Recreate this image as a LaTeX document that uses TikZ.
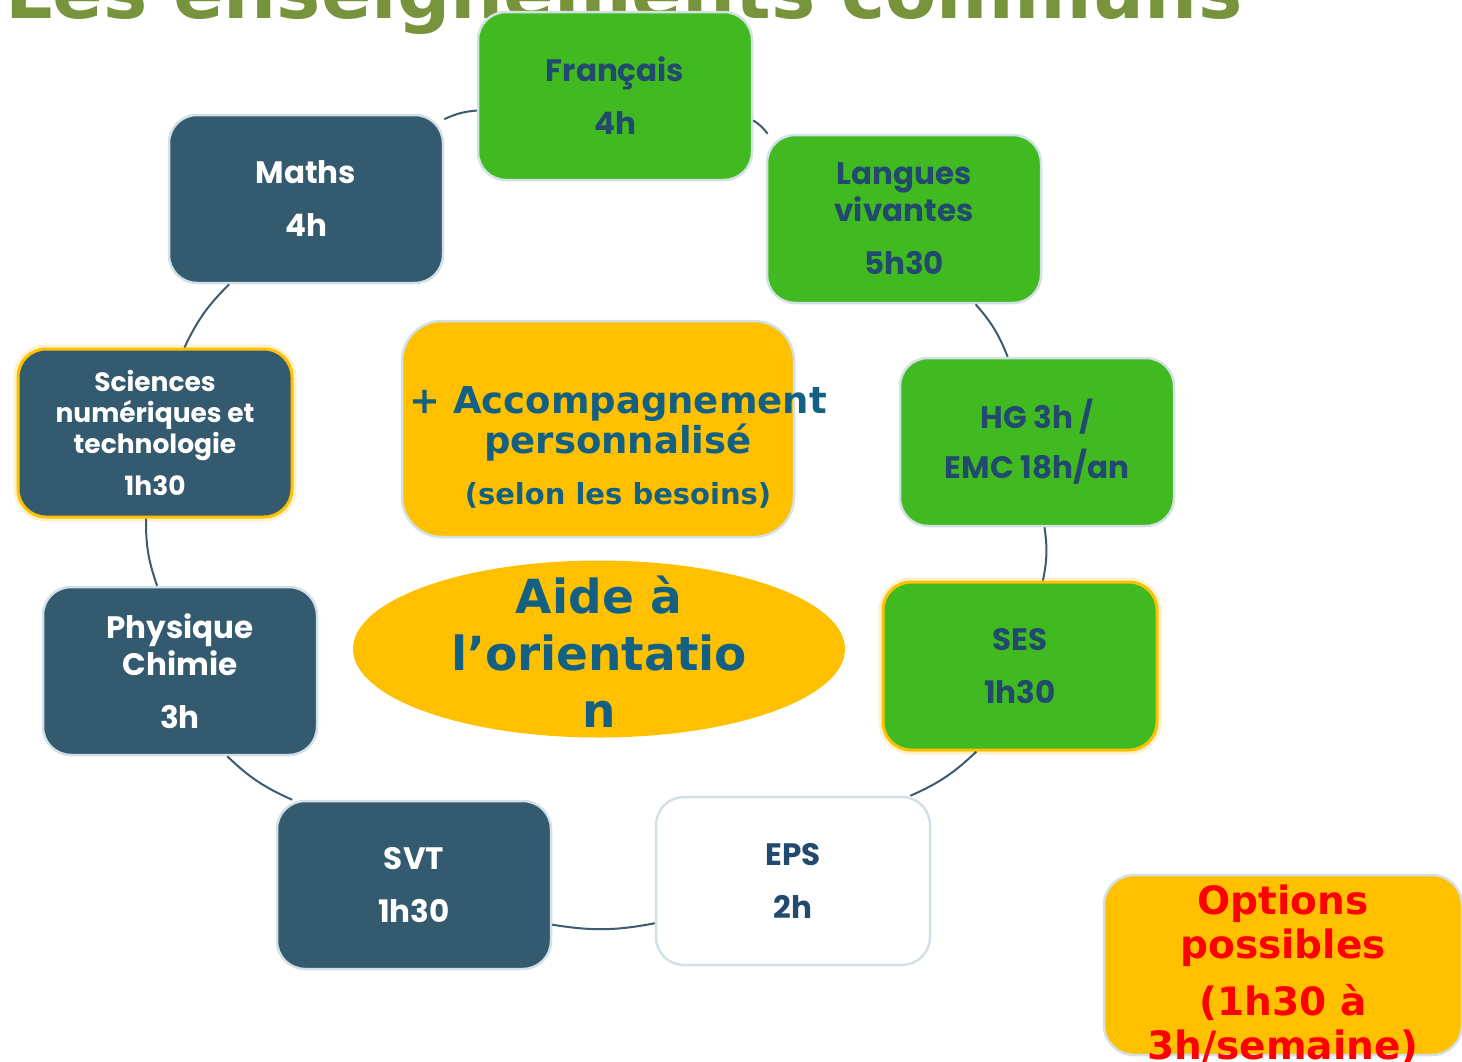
\documentclass[tikz,border=0pt]{standalone}
\usepackage{fontspec}
\setmainfont{DejaVu Sans}
\newfontfamily\boxfont{Poppins}
\usetikzlibrary{
  positioning,
  shapes.geometric
}
\definecolor{vert}{HTML}{40BA20}
\definecolor{ardoise}{HTML}{335A6E}
\definecolor{jaune}{HTML}{FFC000}
\definecolor{bleutexte}{HTML}{22496E}
\definecolor{bleucentre}{HTML}{136082}
\definecolor{bord}{HTML}{D3E0E6}
\definecolor{trait}{HTML}{3E5B6E}
\definecolor{titre}{HTML}{77933C}
\tikzset{
  matiere/.style={draw=bord, line width=2.5pt, rounded corners=28pt,
    minimum width=274pt, minimum height=168pt, align=center,
    font=\boxfont\bfseries\fontsize{31}{37}\selectfont},
  vertbox/.style={matiere, fill=vert, text=bleutexte},
  sombrebox/.style={matiere, fill=ardoise, text=white},
  blancbox/.style={matiere, fill=white, text=bleutexte},
  surligne/.style={draw=jaune, line width=3pt,
    preaction={draw=jaune!60, line width=9pt, opacity=0.35}},
  jaunebox/.style={draw=bord, line width=2.5pt, fill=jaune},
  lien/.style={draw=trait, line width=2pt, bend left=10}
}
\begin{document}
\begin{tikzpicture}[x=1pt, y=-1pt]
    \useasboundingbox (0,0) rectangle (1462,1061);
    \clip (0,0) rectangle (1462,1061);

    \node[anchor=base west, inner sep=0, text=titre,
      font=\bfseries\fontsize{74.5}{74}\selectfont] (titre) at (5,18) {Les enseignements communs};

    \node[vertbox]           (fr)  at (615,96)   {Français\\[16pt]4h};
    \node[sombrebox]         (ma)  at (306,199)  {Maths\\[16pt]4h};
    \node[vertbox]           (la)  at (904,219)  {Langues\\vivantes\\[16pt]5h30};
    \node[vertbox]           (hg)  at (1037,442) {HG 3h /\\[13pt]EMC 18h/an};
    \node[vertbox, surligne] (ses) at (1020,666) {SES\\[16pt]1h30};
    \node[blancbox]          (eps) at (793,881)  {EPS\\[16pt]2h};
    \node[sombrebox]         (svt) at (414,885)  {SVT\\[16pt]1h30};
    \node[sombrebox]         (ph)  at (180,671)  {Physique\\Chimie\\[16pt]3h};
    \node[sombrebox, surligne,
      font=\boxfont\bfseries\fontsize{26.5}{31}\selectfont]
                             (sn)  at (155,433)  {Sciences\\numériques et\\technologie\\[11pt]1h30};

    % centre
    \node[jaunebox, rounded corners=40pt, minimum width=392pt, minimum height=216pt] (acc) at (598,429) {};
    \node[align=center, text=bleucentre, font=\bfseries\fontsize{37}{40}\selectfont]
      (acctxt) at (618,447) {+ Accompagnement\\personnalisé\\[11pt]{\fontsize{29}{30}\selectfont(selon les besoins)}};
    \node[ellipse, fill=jaune, minimum width=492pt, minimum height=177pt] (aide) at (599,649) {};
    \node[align=center, text=bleucentre, font=\bfseries\fontsize{47}{57}\selectfont]
      (aidetxt) at (599,652) {Aide à\\l’orientatio\\n};

    % options
    \node[jaunebox, rounded corners=30pt, minimum width=358pt, minimum height=180pt] (opt) at (1283,965) {};
    \node[align=center, text=red, font=\bfseries\fontsize{39}{44}\selectfont]
      (opttxt) at (1283,975) {Options\\possibles\\[13pt](1h30 à\\3h/semaine)};

    \draw (fr.-10)   edge[lien] (la.148);
    \draw (la.-50)   edge[lien] (hg.109);
    \draw (hg.-85)   edge[lien] (ses.75);
    \draw (ses.243)  edge[lien] (eps.36);
    \draw (eps.197)  edge[lien] (svt.-16);
    \draw (svt.145)  edge[lien] (ph.-61);
    \draw (ph.105)   edge[lien] (sn.264);
    \draw (sn.71)    edge[lien] (ma.228);
    \draw (ma.30)    edge[lien] (fr.186);
\end{tikzpicture}
\end{document}
